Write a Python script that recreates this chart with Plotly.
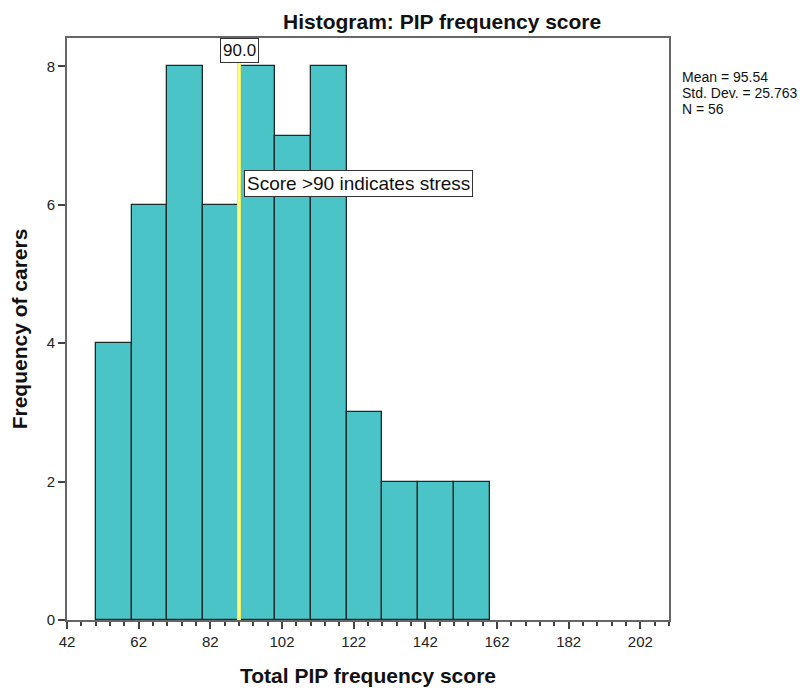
import plotly.graph_objects as go

bin_starts = [50, 60, 70, 80, 90, 100, 110, 120, 130, 140, 150]
counts = [4, 6, 8, 6, 8, 7, 8, 3, 2, 2, 2]
bin_width = 10
threshold = 90
x_ticks = [42, 62, 82, 102, 122, 142, 162, 182, 202]
y_ticks = [0, 2, 4, 6, 8]
stats_lines = ["Mean = 95.54", "Std. Dev. = 25.763", "N = 56"]

centers = [s + bin_width / 2 for s in bin_starts]

# page body has an 8px margin; figure is laid out so the plot lands where the reference's does
OFF = 8
W, H = 812 - OFF, 697 - OFF
L, T = 67 - OFF, 38 - OFF
PW, PH = 602, 582
R, B = W - L - PW, H - T - PH


def px(sx):
    return (sx - 67) / PW


def py(sy):
    return (620 - sy) / PH


FONT = "Liberation Sans, Arial"

fig = go.Figure()
fig.add_trace(go.Bar(
    x=centers, y=counts, width=[bin_width] * len(counts),
    marker=dict(color="#4AC4C6", line=dict(color="#1c2a2a", width=1.3)),
    hoverinfo="x+y", showlegend=False,
))

fig.add_shape(type="line", x0=threshold, x1=threshold, y0=0, y1=1, yref="y domain",
              line=dict(color="#EEEE66", width=4), layer="above")
fig.add_shape(type="line", x0=threshold, x1=threshold, y0=0, y1=1, yref="y domain",
              line=dict(color="#FFFF80", width=2), layer="above")

fig.add_annotation(x=threshold, y=1, yref="y domain", xref="x", text=f"{threshold:.1f}",
                   showarrow=False, yanchor="top", xanchor="center",
                   font=dict(family=FONT, size=17, color="#111"),
                   bgcolor="white", bordercolor="#333", borderwidth=1, borderpad=2)
fig.add_annotation(x=threshold + 1.4, y=6.31, xref="x", yref="y",
                   text="Score >90 indicates stress",
                   showarrow=False, xanchor="left", yanchor="middle",
                   font=dict(family=FONT, size=19, color="#111"),
                   bgcolor="white", bordercolor="#333", borderwidth=1, borderpad=2)

for i, line in enumerate(stats_lines):
    fig.add_annotation(x=px(680), y=py(77 + 15.8 * i), xref="paper", yref="paper",
                       text=line, showarrow=False, xanchor="left", yanchor="middle",
                       font=dict(family=FONT, size=14, color="#111"))

fig.add_annotation(x=px(442), y=py(21.5), xref="paper", yref="paper",
                   text="<b>Histogram: PIP frequency score</b>", showarrow=False,
                   xanchor="center", yanchor="middle",
                   font=dict(family=FONT, size=21, color="#111"))

fig.update_layout(
    width=W, height=H,
    margin=dict(l=L, r=R, t=T, b=B, autoexpand=False),
    paper_bgcolor="white", plot_bgcolor="white",
    bargap=0,
    font=dict(family=FONT, size=15, color="#222"),
)

fig.update_xaxes(
    range=[42, 210], tickvals=x_ticks, ticks="outside", ticklen=7, tickwidth=1.5,
    tickcolor="#444", showline=True, linecolor="#666", linewidth=2, mirror=True,
    showgrid=False, zeroline=False, automargin=False,
    minor=dict(dtick=4, tick0=42, ticks="outside", ticklen=4, tickcolor="#444", showgrid=False),
    tickfont=dict(size=15, color="#222"),
    title=dict(text="<b>Total PIP frequency score</b>", standoff=19,
               font=dict(size=21, color="#111")),
)
fig.update_yaxes(
    range=[0, 8.41], tickvals=y_ticks, ticks="outside", ticklen=7, tickwidth=1.5,
    tickcolor="#444", showline=True, linecolor="#666", linewidth=2, mirror=True,
    showgrid=False, zeroline=False, automargin=False,
    tickfont=dict(size=15, color="#222"),
    title=dict(text="<b>Frequency of carers</b>", standoff=17,
               font=dict(size=21, color="#111")),
)

fig.write_html("out.html")
